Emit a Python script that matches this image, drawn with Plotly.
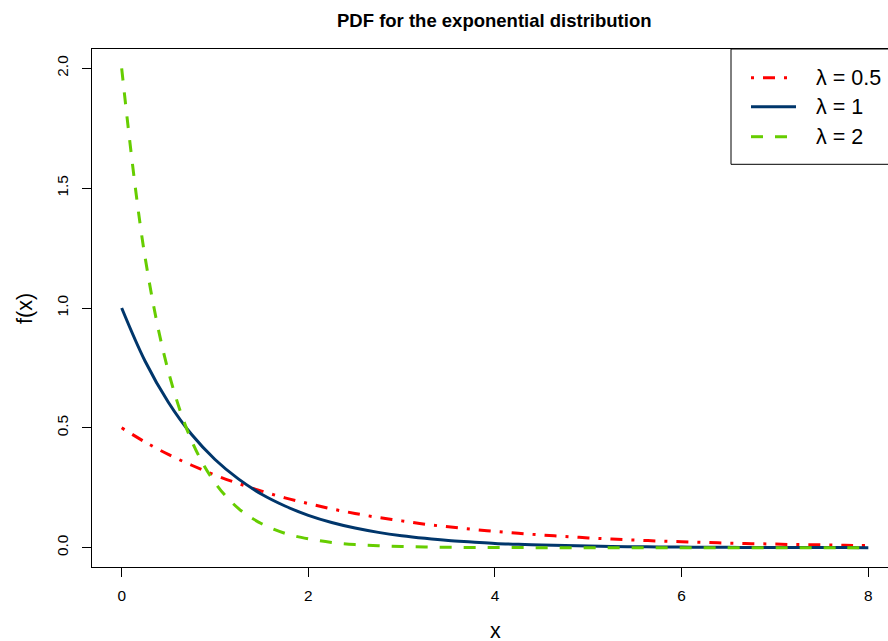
import plotly.graph_objects as go

# x grid (step 0.25)
x_vals = [i * 0.25 for i in range(33)]

pdf_l05 = [0.500, 0.441, 0.389, 0.344, 0.303, 0.268, 0.236, 0.208, 0.184,
           0.162, 0.143, 0.126, 0.112, 0.098, 0.087, 0.077, 0.068,
           0.060, 0.053, 0.047, 0.041, 0.036, 0.032, 0.028, 0.025,
           0.022, 0.019, 0.017, 0.015, 0.013, 0.012, 0.010, 0.009]
pdf_l1 = [1.000, 0.779, 0.607, 0.472, 0.368, 0.287, 0.223, 0.174, 0.135,
          0.105, 0.082, 0.064, 0.050, 0.039, 0.030, 0.024, 0.018,
          0.014, 0.011, 0.009, 0.007, 0.005, 0.004, 0.003, 0.0025,
          0.002, 0.0015, 0.0012, 0.0009, 0.0007, 0.0006, 0.0004, 0.0003]
pdf_l2 = [2.000, 1.213, 0.736, 0.446, 0.271, 0.164, 0.100, 0.060, 0.037,
          0.022, 0.013, 0.008, 0.005, 0.003, 0.002, 0.001, 0.0007,
          0.0004, 0.0002, 0.0002, 0.0001, 0.0001, 0.0, 0.0, 0.0,
          0.0, 0.0, 0.0, 0.0, 0.0, 0.0, 0.0, 0.0]

series_names = ["λ = 0.5", "λ = 1", "λ = 2"]
series_vals = [pdf_l05, pdf_l1, pdf_l2]
series_colors = ["#FF0000", "#00366B", "#66CD00"]
series_dash = ["3px,9px,12px,9px", "solid", "12px,12px"]

x_ticks = [0, 2, 4, 6, 8]
y_ticks = [0.0, 0.5, 1.0, 1.5, 2.0]

W, H = 888, 641
L, R, T, B = 92, 0, 49, 74
PW, PH = W - L - R, H - T - B

def px_x(p):
    return (p - L) / PW

def px_y(p):
    return (H - B - p) / PH

FONT = "Liberation Sans, Arial, Helvetica, sans-serif"

fig = go.Figure()
for name, vals, col, dash in zip(series_names, series_vals, series_colors, series_dash):
    fig.add_trace(go.Scatter(x=x_vals, y=vals, mode="lines", name=name,
                             line=dict(color=col, width=3, dash=dash, shape="spline"),
                             showlegend=False, hoverinfo="skip"))

# manual legend
shapes = [dict(type="rect", xref="paper", yref="paper",
               x0=px_x(731), x1=1.05, y0=px_y(164.3), y1=1.0,
               line=dict(color="black", width=1), fillcolor="white", layer="below")]
annotations = []
leg_y = [77.7, 106.7, 136.7]
for name, col, dash, yy in zip(series_names, series_colors, series_dash, leg_y):
    shapes.append(dict(type="line", xref="paper", yref="paper",
                       x0=px_x(751), x1=px_x(796), y0=px_y(yy), y1=px_y(yy),
                       line=dict(color=col, width=3, dash=dash)))
    annotations.append(dict(text=name, xref="paper", yref="paper",
                            x=px_x(814), y=px_y(yy), xanchor="left", yanchor="middle",
                            showarrow=False, font=dict(family=FONT, size=21.5, color="black")))

annotations.append(dict(text="<b>PDF for the exponential distribution</b>", xref="paper", yref="paper",
                        x=px_x(494), y=1, yshift=29, xanchor="center", yanchor="middle",
                        showarrow=False, font=dict(family=FONT, size=18.5, color="black")))
annotations.append(dict(text="f(x)", xref="paper", yref="paper",
                        x=px_x(25), y=px_y(309), xanchor="center", yanchor="middle",
                        textangle=-90, showarrow=False,
                        font=dict(family=FONT, size=21.5, color="black")))
annotations.append(dict(text="x", xref="paper", yref="paper",
                        x=px_x(495), y=0, yshift=-64, xanchor="center", yanchor="middle",
                        showarrow=False, font=dict(family=FONT, size=21.5, color="black")))

fig.update_layout(
    width=W, height=H,
    margin=dict(l=L, r=R, t=T, b=B, pad=0),
    paper_bgcolor="white", plot_bgcolor="white",
    font=dict(family=FONT, size=15.4, color="black"),
    shapes=shapes, annotations=annotations,
    showlegend=False,
)
fig.update_xaxes(range=[-0.318, 8.211], tickvals=x_ticks, ticktext=[str(v) for v in x_ticks],
                 showgrid=False, zeroline=False, showline=True, linecolor="black", linewidth=1,
                 mirror=True, ticks="outside", ticklen=9, tickwidth=1, tickcolor="black",
                 ticklabelstandoff=6, tickfont=dict(family=FONT, size=15.4, color="black"))
fig.update_yaxes(range=[-0.0805, 2.0805], tickvals=y_ticks, ticktext=[f"{v:.1f}" for v in y_ticks],
                 showgrid=False, zeroline=False, showline=True, linecolor="black", linewidth=1,
                 mirror=False, ticks="outside", ticklen=9, tickwidth=1, tickcolor="black",
                 tickangle=-90, ticklabelstandoff=8, tickfont=dict(family=FONT, size=15.4, color="black"))

fig.write_html("out.html")
